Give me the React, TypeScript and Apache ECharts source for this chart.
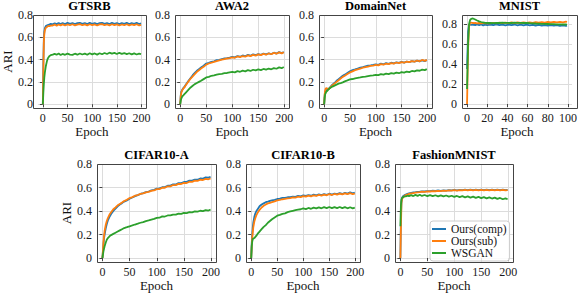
import React, { useEffect, useRef } from "react";
import * as echarts from "echarts";

// ---------- data ----------
const EPOCHS_200 = [
  0, 1, 2, 3, 4, 6, 8, 10,
  13, 16, 20, 24, 28, 32, 36, 40,
  45, 50, 55, 60, 65, 70, 75, 80,
  85, 90, 95, 100, 105, 110, 115, 120,
  125, 130, 135, 140, 145, 150, 155, 160,
  165, 170, 175, 180, 185, 190, 195, 199,
];
const EPOCHS_100 = [
  0, 1, 2, 3, 4, 5, 6,
  7, 8, 10, 12, 14, 16, 18,
  20, 23, 26, 29, 32, 35, 38,
  41, 44, 47, 50, 53, 56, 59,
  62, 65, 68, 71, 74, 77, 80,
  83, 86, 89, 92, 95, 98, 99,
];

const GTSRB_COMP = [
  0, 0.36, 0.58, 0.65, 0.68, 0.7, 0.705, 0.71,
  0.715, 0.72, 0.716, 0.726, 0.718, 0.728, 0.719, 0.727,
  0.718, 0.729, 0.72, 0.728, 0.719, 0.727, 0.73, 0.72,
  0.728, 0.718, 0.729, 0.721, 0.728, 0.718, 0.727, 0.73,
  0.72, 0.728, 0.719, 0.729, 0.721, 0.727, 0.718, 0.728,
  0.72, 0.729, 0.719, 0.727, 0.721, 0.729, 0.719, 0.725,
];
const GTSRB_SUB = [
  0, 0.3, 0.55, 0.63, 0.66, 0.685, 0.69, 0.7,
  0.7, 0.705, 0.706, 0.714, 0.704, 0.715, 0.707, 0.716,
  0.706, 0.715, 0.708, 0.717, 0.707, 0.714, 0.718, 0.708,
  0.716, 0.707, 0.717, 0.709, 0.715, 0.706, 0.716, 0.718,
  0.708, 0.715, 0.707, 0.717, 0.709, 0.716, 0.706, 0.715,
  0.708, 0.717, 0.707, 0.715, 0.709, 0.717, 0.706, 0.712,
];
const GTSRB_WSGAN = [
  0, 0.1, 0.18, 0.24, 0.28, 0.34, 0.38, 0.41,
  0.43, 0.44, 0.445, 0.452, 0.444, 0.454, 0.441, 0.451,
  0.443, 0.454, 0.445, 0.442, 0.453, 0.444, 0.455, 0.446,
  0.454, 0.444, 0.457, 0.447, 0.455, 0.445, 0.457, 0.448,
  0.459, 0.45, 0.462, 0.453, 0.46, 0.45, 0.461, 0.452,
  0.459, 0.449, 0.457, 0.447, 0.456, 0.446, 0.454, 0.45,
];

const AWA2_COMP = [
  0, 0.08, 0.11, 0.12, 0.13, 0.145, 0.155, 0.17,
  0.19, 0.21, 0.235, 0.26, 0.28, 0.3, 0.315, 0.33,
  0.345, 0.365, 0.37, 0.38, 0.385, 0.395, 0.398, 0.405,
  0.41, 0.413, 0.418, 0.425, 0.42, 0.432, 0.426, 0.437,
  0.43, 0.442, 0.435, 0.447, 0.44, 0.45, 0.443, 0.454,
  0.447, 0.457, 0.45, 0.462, 0.454, 0.467, 0.458, 0.468,
];
const AWA2_SUB = [
  0, 0.07, 0.1, 0.115, 0.125, 0.14, 0.15, 0.165,
  0.185, 0.205, 0.23, 0.25, 0.27, 0.29, 0.305, 0.32,
  0.335, 0.355, 0.365, 0.372, 0.38, 0.387, 0.393, 0.4,
  0.405, 0.41, 0.414, 0.42, 0.416, 0.428, 0.422, 0.432,
  0.426, 0.438, 0.431, 0.442, 0.436, 0.447, 0.44, 0.451,
  0.444, 0.455, 0.448, 0.46, 0.453, 0.465, 0.456, 0.466,
];
const AWA2_WSGAN = [
  0, 0.03, 0.05, 0.06, 0.07, 0.08, 0.09, 0.1,
  0.115, 0.13, 0.15, 0.165, 0.18, 0.19, 0.2, 0.21,
  0.225, 0.24, 0.245, 0.255, 0.258, 0.265, 0.27, 0.272,
  0.278, 0.28, 0.286, 0.29, 0.286, 0.297, 0.291, 0.301,
  0.295, 0.305, 0.298, 0.309, 0.303, 0.312, 0.306, 0.316,
  0.31, 0.32, 0.313, 0.324, 0.318, 0.33, 0.323, 0.333,
];

const DOMAIN_COMP = [
  0, 0.08, 0.11, 0.12, 0.125, 0.13, 0.135, 0.145,
  0.16, 0.175, 0.19, 0.21, 0.225, 0.24, 0.255, 0.265,
  0.28, 0.295, 0.305, 0.312, 0.32, 0.328, 0.333, 0.34,
  0.345, 0.348, 0.352, 0.357, 0.353, 0.364, 0.358, 0.368,
  0.362, 0.372, 0.366, 0.376, 0.37, 0.38, 0.373, 0.383,
  0.377, 0.387, 0.381, 0.391, 0.384, 0.394, 0.387, 0.395,
];
const DOMAIN_SUB = [
  0, 0.09, 0.125, 0.14, 0.145, 0.14, 0.135, 0.14,
  0.155, 0.17, 0.185, 0.2, 0.215, 0.23, 0.245, 0.255,
  0.27, 0.285, 0.295, 0.305, 0.313, 0.32, 0.327, 0.333,
  0.338, 0.343, 0.347, 0.352, 0.348, 0.359, 0.354, 0.364,
  0.359, 0.369, 0.364, 0.374, 0.368, 0.378, 0.372, 0.382,
  0.377, 0.387, 0.381, 0.392, 0.385, 0.397, 0.389, 0.398,
];
const DOMAIN_WSGAN = [
  0, 0.06, 0.09, 0.1, 0.11, 0.12, 0.13, 0.14,
  0.15, 0.158, 0.167, 0.176, 0.185, 0.19, 0.196, 0.205,
  0.213, 0.222, 0.226, 0.232, 0.236, 0.24, 0.245, 0.248,
  0.252, 0.256, 0.259, 0.264, 0.261, 0.27, 0.265, 0.274,
  0.27, 0.279, 0.274, 0.283, 0.278, 0.288, 0.283, 0.293,
  0.288, 0.298, 0.294, 0.304, 0.3, 0.31, 0.306, 0.315,
];

const MNIST_COMP = [
  0.35, 0.72, 0.79, 0.795, 0.79, 0.796, 0.79,
  0.794, 0.788, 0.796, 0.789, 0.795, 0.787, 0.794,
  0.788, 0.795, 0.789, 0.796, 0.788, 0.794, 0.787,
  0.794, 0.788, 0.795, 0.787, 0.793, 0.786, 0.793,
  0.787, 0.792, 0.785, 0.791, 0.785, 0.79, 0.784,
  0.789, 0.783, 0.788, 0.782, 0.787, 0.781, 0.784,
];
const MNIST_SUB = [
  0, 0.55, 0.78, 0.81, 0.815, 0.812, 0.81,
  0.808, 0.81, 0.806, 0.81, 0.807, 0.811, 0.806,
  0.81, 0.806, 0.812, 0.807, 0.813, 0.808, 0.814,
  0.809, 0.815, 0.809, 0.815, 0.81, 0.816, 0.811,
  0.817, 0.812, 0.818, 0.813, 0.819, 0.814, 0.82,
  0.815, 0.821, 0.816, 0.822, 0.817, 0.823, 0.82,
];
const MNIST_WSGAN = [
  0.15, 0.6, 0.8, 0.84, 0.85, 0.855, 0.853,
  0.85, 0.845, 0.835, 0.826, 0.82, 0.815, 0.812,
  0.81, 0.811, 0.809, 0.812, 0.81, 0.813, 0.811,
  0.812, 0.81, 0.813, 0.811, 0.812, 0.81, 0.811,
  0.808, 0.807, 0.805, 0.804, 0.802, 0.801, 0.8,
  0.799, 0.798, 0.797, 0.796, 0.795, 0.795, 0.794,
];

const CIFARA_COMP = [
  0, 0.06, 0.12, 0.17, 0.2, 0.25, 0.29, 0.32,
  0.35, 0.375, 0.4, 0.42, 0.44, 0.455, 0.467, 0.48,
  0.49, 0.505, 0.515, 0.527, 0.535, 0.545, 0.552, 0.56,
  0.566, 0.575, 0.58, 0.59, 0.592, 0.602, 0.604, 0.615,
  0.616, 0.627, 0.626, 0.638, 0.638, 0.647, 0.648, 0.658,
  0.658, 0.667, 0.666, 0.677, 0.676, 0.686, 0.684, 0.69,
];
const CIFARA_SUB = [
  0, 0.07, 0.14, 0.19, 0.23, 0.28, 0.315, 0.34,
  0.37, 0.39, 0.415, 0.43, 0.448, 0.46, 0.472, 0.485,
  0.495, 0.51, 0.518, 0.53, 0.536, 0.546, 0.55, 0.558,
  0.563, 0.572, 0.575, 0.586, 0.586, 0.598, 0.598, 0.61,
  0.61, 0.621, 0.62, 0.631, 0.63, 0.64, 0.638, 0.649,
  0.648, 0.658, 0.656, 0.666, 0.664, 0.674, 0.67, 0.678,
];
const CIFARA_WSGAN = [
  0, 0.03, 0.06, 0.08, 0.1, 0.13, 0.155, 0.17,
  0.185, 0.195, 0.205, 0.215, 0.225, 0.235, 0.245, 0.255,
  0.262, 0.27, 0.277, 0.285, 0.292, 0.3, 0.306, 0.314,
  0.32, 0.327, 0.333, 0.342, 0.343, 0.354, 0.353, 0.362,
  0.362, 0.37, 0.369, 0.378, 0.376, 0.384, 0.382, 0.39,
  0.388, 0.396, 0.394, 0.402, 0.399, 0.407, 0.404, 0.411,
];

const CIFARB_COMP = [
  0, 0.12, 0.2, 0.26, 0.3, 0.35, 0.38, 0.4,
  0.42, 0.44, 0.455, 0.465, 0.475, 0.48, 0.486, 0.49,
  0.495, 0.502, 0.505, 0.511, 0.512, 0.517, 0.518, 0.523,
  0.52, 0.529, 0.524, 0.533, 0.528, 0.536, 0.53, 0.539,
  0.533, 0.541, 0.535, 0.544, 0.538, 0.547, 0.54, 0.549,
  0.543, 0.552, 0.545, 0.555, 0.548, 0.559, 0.55, 0.556,
];
const CIFARB_SUB = [
  0, 0.1, 0.17, 0.22, 0.26, 0.31, 0.34, 0.365,
  0.39, 0.41, 0.43, 0.445, 0.455, 0.465, 0.47, 0.475,
  0.482, 0.49, 0.494, 0.5, 0.503, 0.507, 0.51, 0.515,
  0.513, 0.522, 0.518, 0.527, 0.522, 0.531, 0.525, 0.534,
  0.528, 0.537, 0.531, 0.54, 0.534, 0.543, 0.536, 0.545,
  0.539, 0.548, 0.541, 0.55, 0.543, 0.552, 0.544, 0.548,
];
const CIFARB_WSGAN = [
  0, 0.1, 0.14, 0.16, 0.165, 0.17, 0.18, 0.19,
  0.21, 0.225, 0.245, 0.265, 0.28, 0.3, 0.315, 0.33,
  0.345, 0.36, 0.367, 0.376, 0.38, 0.39, 0.396, 0.402,
  0.408, 0.412, 0.415, 0.422, 0.416, 0.426, 0.419, 0.429,
  0.422, 0.431, 0.423, 0.433, 0.425, 0.434, 0.424, 0.433,
  0.425, 0.434, 0.424, 0.433, 0.423, 0.432, 0.422, 0.428,
];

const FASHION_COMP = [
  0, 0.35, 0.48, 0.51, 0.52, 0.53, 0.535, 0.54,
  0.545, 0.55, 0.555, 0.558, 0.56, 0.563, 0.564, 0.567,
  0.566, 0.57, 0.569, 0.573, 0.571, 0.575, 0.572, 0.576,
  0.574, 0.577, 0.575, 0.579, 0.576, 0.58, 0.577, 0.581,
  0.578, 0.582, 0.578, 0.581, 0.577, 0.582, 0.578, 0.581,
  0.577, 0.582, 0.578, 0.581, 0.577, 0.582, 0.578, 0.58,
];
const FASHION_SUB = [
  0, 0.27, 0.47, 0.5, 0.51, 0.52, 0.53, 0.535,
  0.54, 0.545, 0.55, 0.553, 0.556, 0.559, 0.561, 0.564,
  0.563, 0.567, 0.566, 0.57, 0.568, 0.572, 0.57, 0.574,
  0.572, 0.575, 0.573, 0.577, 0.574, 0.578, 0.575, 0.579,
  0.576, 0.58, 0.576, 0.579, 0.575, 0.58, 0.576, 0.579,
  0.576, 0.58, 0.576, 0.579, 0.575, 0.58, 0.576, 0.578,
];
const FASHION_WSGAN = [
  0.27, 0.45, 0.5, 0.51, 0.515, 0.52, 0.525, 0.525,
  0.53, 0.527, 0.535, 0.527, 0.537, 0.529, 0.538, 0.528,
  0.536, 0.527, 0.535, 0.526, 0.534, 0.525, 0.533, 0.524,
  0.532, 0.522, 0.53, 0.52, 0.528, 0.518, 0.526, 0.516,
  0.524, 0.514, 0.522, 0.512, 0.52, 0.51, 0.518, 0.508,
  0.516, 0.506, 0.514, 0.503, 0.511, 0.5, 0.508, 0.5,
];

const SERIES_NAMES = ["Ours(comp)", "Ours(sub)", "WSGAN"];
const X_TICKS_200 = [0, 50, 100, 150, 200];
const X_TICKS_100 = [0, 20, 40, 60, 80, 100];
const Y_TICKS = [0, 0.2, 0.4, 0.6, 0.8];

// ---------- styling / layout ----------
const COLORS = ["#1f77b4", "#ff7f0e", "#2ca02c"];
const FONT = "'Liberation Serif', 'DejaVu Serif', serif";
const FRAME = "#444444";
const GRIDLINE = "#dcdcdc";

type Panel = {
  title: string;
  epochs: number[];
  values: number[][];
  xTicks: number[];
  xRange: [number, number];
  yRange: [number, number];
  box: { left: number; top: number; width: number; height: number };
  yName: boolean;
};

const TOP = 15, TOP_H = 93, BOT = 164, BOT_H = 98;

const PANELS: Panel[] = [
  { title: "GTSRB", epochs: EPOCHS_200, values: [GTSRB_COMP, GTSRB_SUB, GTSRB_WSGAN], xTicks: X_TICKS_200, xRange: [-10, 209], yRange: [-0.034, 0.8], box: { left: 33, top: TOP, width: 113, height: TOP_H }, yName: true },
  { title: "AWA2", epochs: EPOCHS_200, values: [AWA2_COMP, AWA2_SUB, AWA2_WSGAN], xTicks: X_TICKS_200, xRange: [-10, 209], yRange: [-0.034, 0.8], box: { left: 175, top: TOP, width: 114, height: TOP_H }, yName: false },
  { title: "DomainNet", epochs: EPOCHS_200, values: [DOMAIN_COMP, DOMAIN_SUB, DOMAIN_WSGAN], xTicks: X_TICKS_200, xRange: [-10, 209], yRange: [-0.034, 0.8], box: { left: 319, top: TOP, width: 113, height: TOP_H }, yName: false },
  { title: "MNIST", epochs: EPOCHS_100, values: [MNIST_COMP, MNIST_SUB, MNIST_WSGAN], xTicks: X_TICKS_100, xRange: [-5, 104], yRange: [-0.04, 0.89], box: { left: 462, top: TOP, width: 115, height: TOP_H }, yName: false },
  { title: "CIFAR10-A", epochs: EPOCHS_200, values: [CIFARA_COMP, CIFARA_SUB, CIFARA_WSGAN], xTicks: X_TICKS_200, xRange: [-10, 209], yRange: [-0.034, 0.8], box: { left: 97, top: BOT, width: 119, height: BOT_H }, yName: true },
  { title: "CIFAR10-B", epochs: EPOCHS_200, values: [CIFARB_COMP, CIFARB_SUB, CIFARB_WSGAN], xTicks: X_TICKS_200, xRange: [-10, 209], yRange: [-0.034, 0.8], box: { left: 246, top: BOT, width: 114, height: BOT_H }, yName: false },
  { title: "FashionMNIST", epochs: EPOCHS_200, values: [FASHION_COMP, FASHION_SUB, FASHION_WSGAN], xTicks: X_TICKS_200, xRange: [-10, 209], yRange: [-0.034, 0.8], box: { left: 395, top: BOT, width: 118, height: BOT_H }, yName: false },
];

const isTick = (ticks: number[], v: number) => ticks.some((t) => Math.abs(t - v) < 1e-6);

export default function App() {
  const ref = useRef<HTMLDivElement>(null);

  useEffect(() => {
    if (!ref.current) return;
    const chart = echarts.init(ref.current, null, { renderer: "svg" });

    const grids: any[] = [];
    const xAxes: any[] = [];
    const yAxes: any[] = [];
    const series: any[] = [];
    const graphics: any[] = [];

    PANELS.forEach((p, i) => {
      grids.push({ left: p.box.left, top: p.box.top, width: p.box.width, height: p.box.height, show: false });
      xAxes.push({
        type: "value",
        gridIndex: i,
        min: p.xRange[0],
        max: p.xRange[1],
        splitNumber: 5,
        axisLine: { show: false },
        axisTick: { show: true, length: 3, customValues: p.xTicks, lineStyle: { color: FRAME, width: 1 } },
        axisLabel: {
          margin: 4,
          color: "#1a1a1a",
          fontFamily: FONT,
          fontSize: 12,
          formatter: (v: number) => (isTick(p.xTicks, v) ? String(Math.round(v)) : ""),
        },
        splitLine: { show: true, lineStyle: { color: GRIDLINE, width: 1 } },
        name: "Epoch",
        nameLocation: "middle",
        nameGap: 17,
        nameTextStyle: { fontFamily: FONT, fontSize: 13, color: "#111" },
      });
      yAxes.push({
        type: "value",
        gridIndex: i,
        min: p.yRange[0],
        max: p.yRange[1],
        splitNumber: 5,
        axisLine: { show: false },
        axisTick: { show: true, length: 3, customValues: Y_TICKS, lineStyle: { color: FRAME, width: 1 } },
        axisLabel: {
          margin: 5,
          color: "#1a1a1a",
          fontFamily: FONT,
          fontSize: 12,
          formatter: (v: number) => (isTick(Y_TICKS, v) ? (Math.abs(v) < 1e-9 ? "0" : String(Math.round(v * 10) / 10)) : ""),
        },
        splitLine: { show: true, lineStyle: { color: GRIDLINE, width: 1 } },
        name: p.yName ? "ARI" : "",
        nameLocation: "middle",
        nameGap: 22,
        nameTextStyle: { fontFamily: FONT, fontSize: 13, color: "#111" },
      });
      p.values.forEach((vals, j) => {
        series.push({
          type: "line",
          name: SERIES_NAMES[j],
          xAxisIndex: i,
          yAxisIndex: i,
          data: p.epochs.map((e, k) => [e, vals[k]]),
          showSymbol: false,
          symbol: "none",
          lineStyle: { color: COLORS[j], width: 1.8 },
          itemStyle: { color: COLORS[j] },
          z: 2 + j,
          silent: true,
        });
      });
      graphics.push({
        type: "rect",
        z: 100,
        silent: true,
        shape: { x: p.box.left + 0.5, y: p.box.top + 0.5, width: p.box.width, height: p.box.height },
        style: { fill: "none", stroke: FRAME, lineWidth: 1 },
      });
      graphics.push({
        type: "text",
        z: 100,
        x: p.box.left + p.box.width / 2,
        y: p.box.top - 9,
        style: {
          text: p.title,
          align: "center",
          verticalAlign: "middle",
          fontFamily: FONT,
          fontWeight: "bold",
          fontSize: 12.5,
          fill: "#000",
        },
      });
    });

    chart.setOption({
      animation: false,
      backgroundColor: "#ffffff",
      grid: grids,
      xAxis: xAxes,
      yAxis: yAxes,
      series,
      graphic: graphics,
      legend: {
        data: SERIES_NAMES,
        orient: "vertical",
        left: 430,
        top: 221,
        icon: "rect",
        itemWidth: 14,
        itemHeight: 2,
        itemGap: 0,
        z: 50,
        textStyle: { fontFamily: FONT, fontSize: 11.5, lineHeight: 11.5, color: "#111" },
        backgroundColor: "rgba(255,255,255,0.85)",
        borderColor: "#cccccc",
        borderWidth: 1,
        borderRadius: 3,
        padding: [2, 3, 2, 2],
        selectedMode: false,
      },
    });

    return () => chart.dispose();
  }, []);

  return (
    <div
      ref={ref}
      style={{ position: "absolute", left: 0, top: 0, width: 580, height: 294, background: "#fff" }}
    />
  );
}
